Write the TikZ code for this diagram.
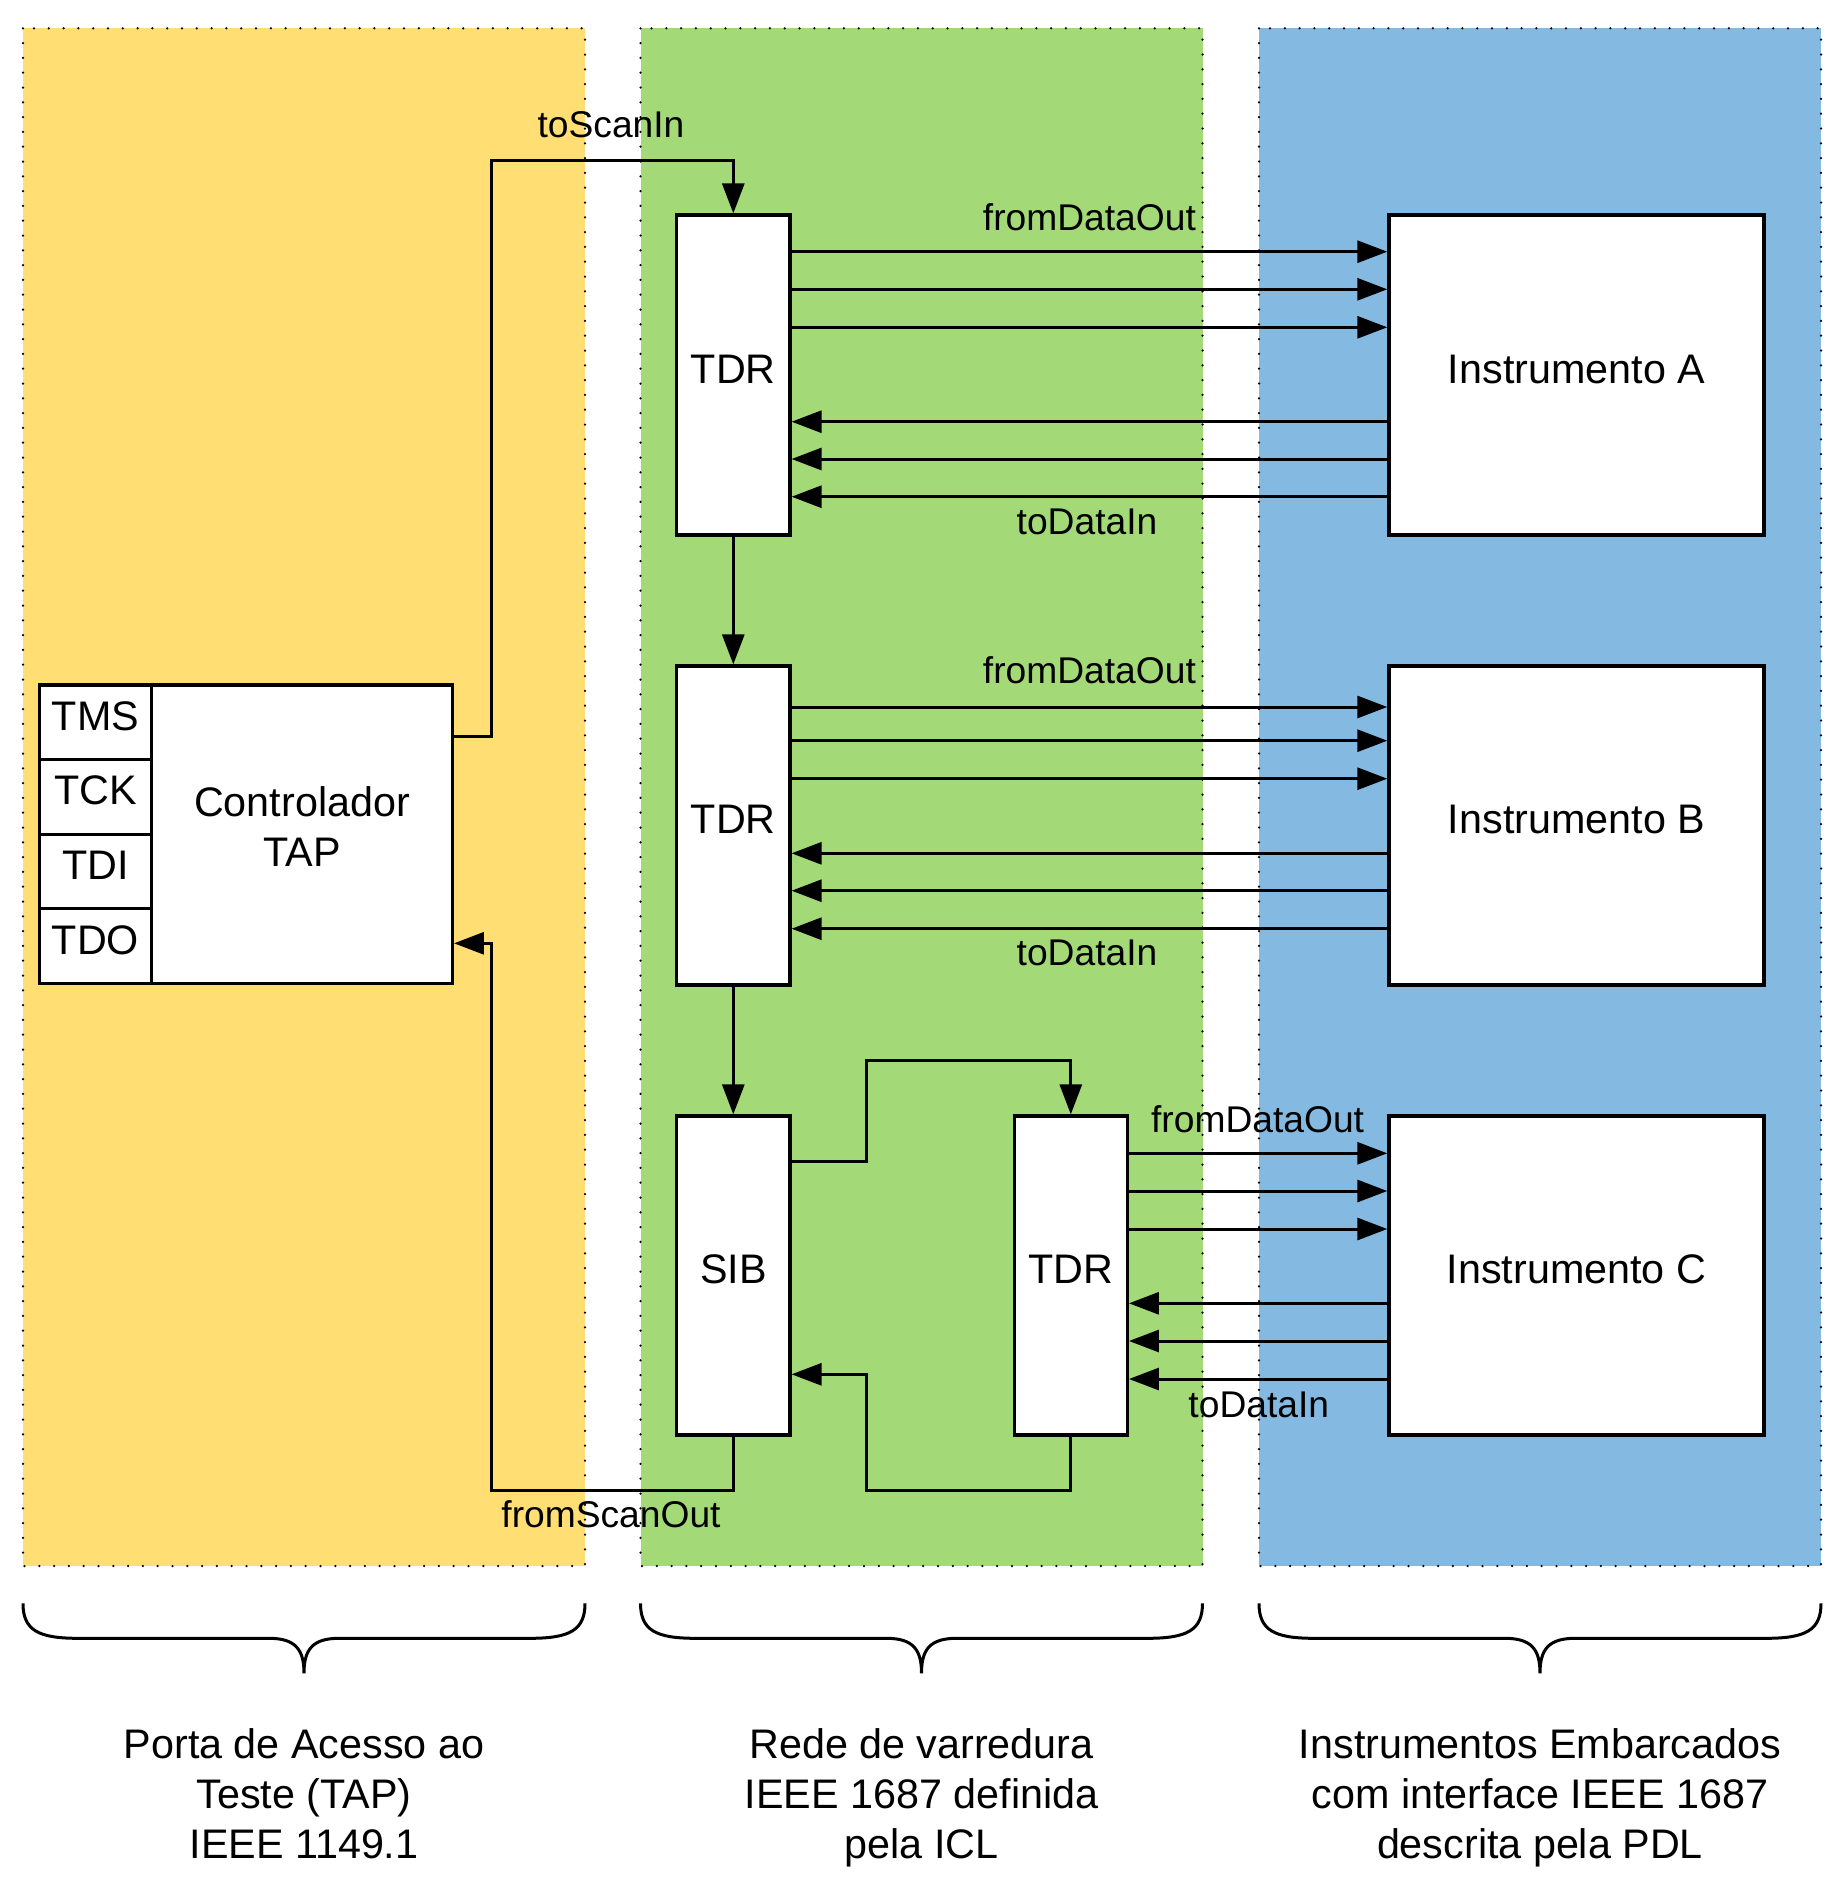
\documentclass[tikz,border=0pt]{standalone}
\usepackage{fontspec}
\setmainfont{Liberation Sans}
\usetikzlibrary{arrows.meta}

\definecolor{tapYellow}{HTML}{FFDE73}
\definecolor{iclGreen}{HTML}{A3D977}
\definecolor{pdlBlue}{HTML}{84B9E2}

\begin{document}
\begin{tikzpicture}[x=1pt, y=-1pt, >={Triangle[length=30pt, width=22pt]},
        box/.style={draw, line width=3.3pt, fill=white, inner sep=0pt, text height=29pt, text depth=13pt, font=\fontsize{41.3}{50}\selectfont},
        lbl/.style={anchor=base, inner sep=0pt, font=\fontsize{37.2}{45}\selectfont},
        caption/.style={anchor=base, inner sep=0pt, align=center, font=\fontsize{41.3}{50}\selectfont},
        wire/.style={line width=3pt},
        panel/.style={line width=2.5pt, dash pattern=on 0pt off 14.8pt, line cap=round}]
        \useasboundingbox (0,0) rectangle (1836,1888);

        \foreach \x/\c in {23/tapYellow, 640.5/iclGreen, 1259/pdlBlue} {
            \fill[\c] (\x,28.3) rectangle ++(562,1537.7);
            \draw[panel] (\x,28.3) rectangle ++(562,1537.7);
            \draw[wire] (\x,1603.3) .. controls (\x,1630) and (\x+15,1638.3) .. (\x+55,1638.3) -- (\x+246,1638.3)
                .. controls (\x+273,1638.3) and (\x+281,1650) .. (\x+281,1673.3)
                .. controls (\x+281,1650) and (\x+289,1638.3) .. (\x+316,1638.3) -- (\x+507,1638.3)
                .. controls (\x+547,1638.3) and (\x+562,1630) .. (\x+562,1603.3);
        }

        \node[caption] (capTap) at (304,1858.3) {Porta de Acesso ao\\Teste (TAP)\\IEEE 1149.1};
        \node[caption] (capIcl) at (921.5,1858.3) {Rede de varredura\\IEEE 1687 definida\\pela ICL};
        \node[caption] (capPdl) at (1540,1858.3) {Instrumentos Embarcados\\com interface IEEE 1687\\descrita pela PDL};

        \foreach \p [count=\i] in {TMS, TCK, TDI, TDO}
            \node[box, minimum width=112.4pt, minimum height=74.6pt] (port\i) at (95.5, {685+37.3+74.6*(\i-1)}) {\p};
        \node[box, minimum width=300.6pt, minimum height=298.3pt, align=center, text height=78pt, text depth=13pt] (ctrl) at (302,834.2) {Controlador\\TAP};

        \node[box, minimum width=113.3pt, minimum height=320pt] (tdrA) at (733.3,375) {TDR};
        \node[box, minimum width=113.3pt, minimum height=319pt] (tdrB) at (733.3,825.5) {TDR};
        \node[box, minimum width=113.3pt, minimum height=319pt] (sib) at (733.3,1275.5) {SIB};
        \node[box, minimum width=113pt, minimum height=319pt] (tdrC) at (1070.8,1275.5) {TDR};

        \node[box, minimum width=375.1pt, minimum height=320pt] (instA) at (1576.5,375) {Instrumento A};
        \node[box, minimum width=375.1pt, minimum height=319pt] (instB) at (1576.5,825.5) {Instrumento B};
        \node[box, minimum width=375.1pt, minimum height=319pt] (instC) at (1576.5,1275.5) {Instrumento C};

        \draw[wire, ->] (ctrl.east |- 0,736) -| (491,160) -| (tdrA.north);
        \draw[wire, ->] (tdrA.south) -- (tdrB.north);
        \draw[wire, ->] (tdrB.south) -- (sib.north);
        \draw[wire, ->] (sib.east |- 0,1161.7) -| (866.7,1060) -| (tdrC.north);
        \draw[wire, ->] (tdrC.south) |- (866.7,1490.7) |- (sib.east |- 0,1374.3);
        \draw[wire, ->] (sib.south) |- (491,1490.7) |- (ctrl.east |- 0,943.3);

        \foreach \s/\y in {A/251.7, A/289.3, A/327.3, B/707, B/740.7, B/778.7, C/1153.3, C/1191, C/1229}
            \draw[wire, ->] (tdr\s.east |- 0,\y) -- (inst\s.west |- 0,\y);
        \foreach \s/\y in {A/421.7, A/459, A/496.7, B/853.3, B/890.7, B/928.7, C/1303.3, C/1341, C/1379}
            \draw[wire, ->] (inst\s.west |- 0,\y) -- (tdr\s.east |- 0,\y);

        \node[lbl] (toScanIn) at (611,137) {toScanIn};
        \node[lbl] (fromScanOut) at (611,1527) {fromScanOut};
        \node[lbl] (outA) at (1089.4,230) {fromDataOut};
        \node[lbl] (outB) at (1089.4,683.3) {fromDataOut};
        \node[lbl] (outC) at (1257.6,1132) {fromDataOut};
        \node[lbl] (inA) at (1087,534) {toDataIn};
        \node[lbl] (inB) at (1087,965) {toDataIn};
        \node[lbl] (inC) at (1258.8,1417) {toDataIn};

    \end{tikzpicture}
\end{document}
